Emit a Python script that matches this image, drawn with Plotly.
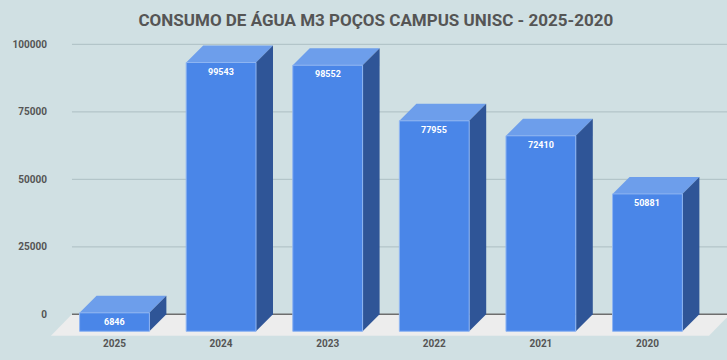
import plotly.graph_objects as go

# ---- data ----
categories = ["2025", "2024", "2023", "2022", "2021", "2020"]
values = [6846, 99543, 98552, 77955, 72410, 50881]
y_ticks = [0, 25000, 50000, 75000, 100000]
title_text = "CONSUMO DE ÁGUA M3 POÇOS CAMPUS UNISC - 2025-2020"

# ---- style / geometry (pseudo-3D) ----
BG = "#d0e0e3"
FRONT = "#4a86e8"
TOP = "#6d9eeb"
SIDE = "#2f5597"
EDGE = "#8fb5f2"
FLOOR = "#ededed"
GRID = "#b3c5c9"
ZERO = "#6e6e6e"
TXT = "#555555"

bar_w = 0.655
dx = 0.1595          # depth offset in category units
dy = 6296            # depth offset in value units
x_range = [-0.605, 5.746]
y_range = [-8037, 105296]
grid_x0 = -0.399
floor_front = -7900
floor_dx = 0.197
floor_x1 = 5.774

xs = list(range(len(categories)))
fig = go.Figure()

# gridlines on the back plane
for t in y_ticks[1:]:
    fig.add_trace(go.Scatter(x=[grid_x0, x_range[1]], y=[t, t], mode="lines",
                             line=dict(color=GRID, width=1.2), hoverinfo="skip",
                             showlegend=False))

# floor
fl = grid_x0 - floor_dx
fig.add_trace(go.Scatter(x=[fl, grid_x0, floor_x1, floor_x1 - floor_dx, fl],
                         y=[floor_front, 0, 0, floor_front, floor_front],
                         fill="toself", fillcolor=FLOOR, mode="lines",
                         line=dict(width=0, color=FLOOR), hoverinfo="skip",
                         showlegend=False))
# zero line
fig.add_trace(go.Scatter(x=[grid_x0, x_range[1]], y=[0, 0], mode="lines",
                         line=dict(color=ZERO, width=1.5), hoverinfo="skip",
                         showlegend=False))

# bars: top, side and front faces
for x, v in zip(xs, values):
    l, r = x - bar_w / 2, x + bar_w / 2
    fig.add_trace(go.Scatter(x=[l, r, r + dx, l + dx, l],
                             y=[v - dy, v - dy, v, v, v - dy],
                             fill="toself", fillcolor=TOP, mode="lines",
                             line=dict(width=0, color=TOP), hoverinfo="skip",
                             showlegend=False))
    fig.add_trace(go.Scatter(x=[r, r, r + dx, r + dx, r],
                             y=[-dy, v - dy, v, 0, -dy],
                             fill="toself", fillcolor=SIDE, mode="lines",
                             line=dict(width=0, color=SIDE), hoverinfo="skip",
                             showlegend=False))
    fig.add_trace(go.Scatter(x=[l, r, r, l, l],
                             y=[-dy, -dy, v - dy, v - dy, -dy],
                             fill="toself", fillcolor=FRONT, mode="lines",
                             line=dict(width=1, color=EDGE), hoverinfo="skip",
                             showlegend=False))

# value labels near top of front face
for x, v in zip(xs, values):
    fig.add_annotation(x=x, y=v - dy, text=str(v), showarrow=False,
                       yanchor="top", yshift=-2,
                       font=dict(family="Roboto", size=9, color="white", weight="bold"))

fig.update_layout(
    width=727, height=360,
    margin=dict(l=50, r=0, t=30, b=24),
    paper_bgcolor=BG, plot_bgcolor=BG,
    title=dict(text=title_text, x=0.517, xanchor="center", y=0.944, yanchor="middle",
               font=dict(family="Roboto", size=17, color=TXT, weight="bold")),
    xaxis=dict(range=x_range, tickvals=xs, ticktext=categories, showgrid=False,
               zeroline=False, showline=False, ticks="",
               tickfont=dict(family="Roboto", size=10, color=TXT, weight="bold")),
    yaxis=dict(range=y_range, tickvals=y_ticks, ticktext=[str(t) for t in y_ticks],
               showgrid=False, zeroline=False, showline=False, ticks="",
               ticklabelstandoff=2,
               tickfont=dict(family="Roboto", size=10, color=TXT, weight="bold")),
    showlegend=False,
)

fig.write_html("out.html", config={"displayModeBar": False},
               post_script="document.body.style.margin='0px';document.body.style.overflow='hidden';")
